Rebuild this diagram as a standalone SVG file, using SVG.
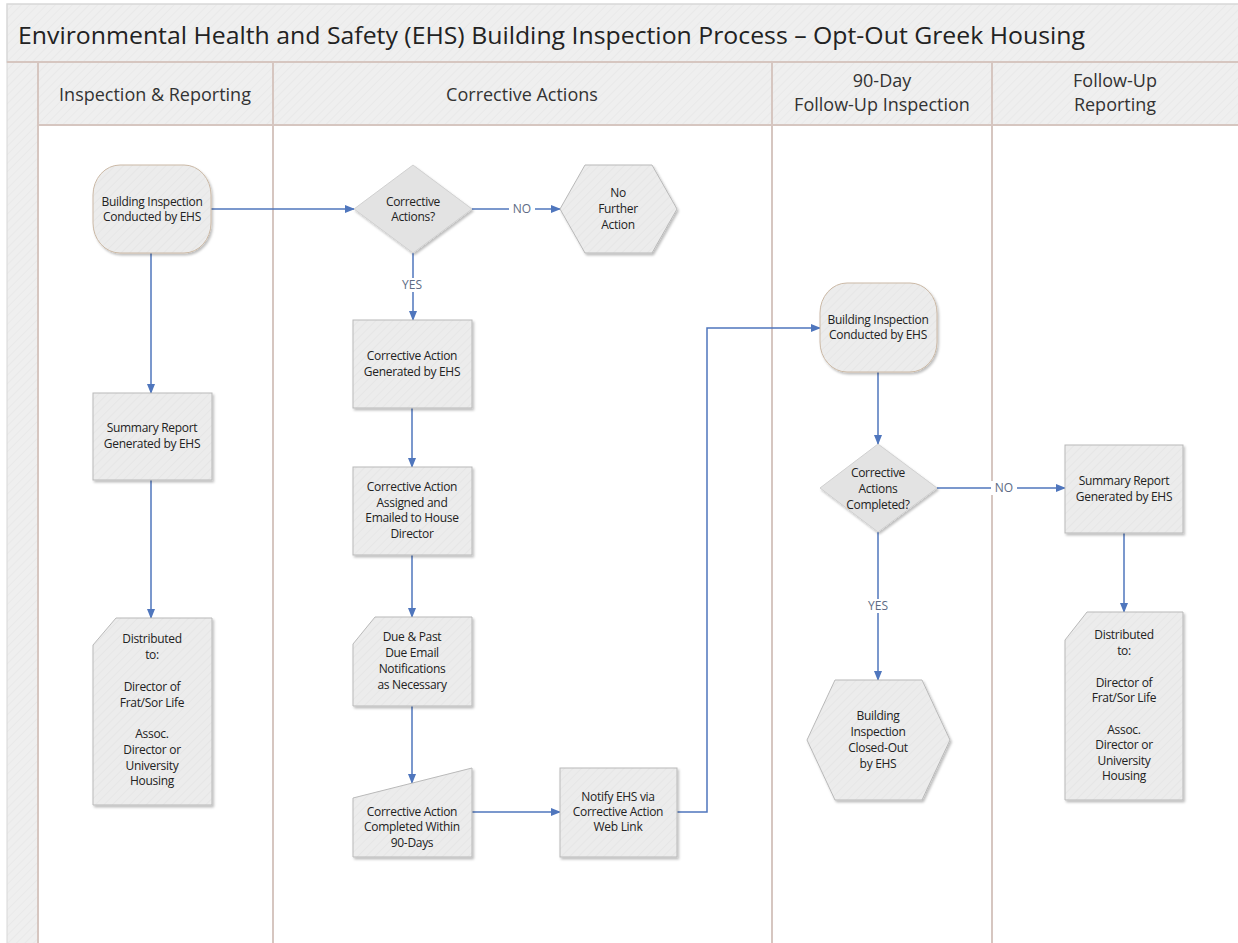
<svg xmlns="http://www.w3.org/2000/svg" width="1238" height="943" viewBox="0 0 1238 943">
<style>
.lane{stroke:#d6c6c0;stroke-width:2;fill:none}
.band{fill:url(#hatch)}
.title{font-family:"Open Sans","Noto Sans",sans-serif;font-size:24.5px;fill:#222}
.hdr{font-family:"Open Sans","Noto Sans",sans-serif;font-size:18px;fill:#333;text-anchor:middle}
.shape{fill:url(#nfill);stroke:#b9b9b9;stroke-width:1;filter:url(#sh)}
.term{fill:url(#nfill);stroke:#cbb9a6;stroke-width:1;filter:url(#sh)}
.dia{fill:#e3e3e3;stroke:#d0d0d0;stroke-width:1;filter:url(#sh)}
.t{font-family:"Open Sans","Noto Sans",sans-serif;font-size:12px;fill:#222;text-anchor:middle;letter-spacing:-0.3px}
.c{stroke:#4f76bd;stroke-width:1.5;fill:none}
.ca{stroke:#4f76bd;stroke-width:1.5;fill:none;marker-end:url(#ah)}
.lbl{font-family:"Open Sans","Noto Sans",sans-serif;font-size:12px;fill:#5d6b84;text-anchor:middle}
</style>
<defs>
<pattern id="hatch" patternUnits="userSpaceOnUse" width="6" height="6" patternTransform="rotate(45)">
<rect width="6" height="6" fill="#efefef"/>
<line x1="0" y1="0" x2="0" y2="6" stroke="#e9e9e9" stroke-width="2"/>
</pattern>
<pattern id="nfill" patternUnits="userSpaceOnUse" width="6" height="6" patternTransform="rotate(45)">
<rect width="6" height="6" fill="#ececec"/>
<line x1="0" y1="0" x2="0" y2="6" stroke="#e6e6e6" stroke-width="2"/>
</pattern>
<filter id="sh" x="-10%" y="-10%" width="125%" height="125%">
<feDropShadow dx="1.5" dy="2" stdDeviation="1.2" flood-color="#000" flood-opacity="0.25"/>
</filter>
<marker id="ah" markerWidth="10" markerHeight="8" refX="9" refY="4" orient="auto" markerUnits="userSpaceOnUse">
<path d="M0,0 L10,4 L0,8 Z" fill="#4f76bd"/>
</marker>
</defs>
<rect x="0" y="0" width="1238" height="943" fill="#ffffff"/>
<g id="frame">
<rect x="7" y="4" width="1240" height="58" class="band" stroke="#d8d8d8" stroke-width="1.5"/>
<rect x="7" y="62" width="31" height="890" class="band" stroke="#d8d8d8" stroke-width="1"/>
<rect x="38" y="62" width="1210" height="63" class="band"/>
<text x="18" y="44" class="title" textLength="1067" lengthAdjust="spacingAndGlyphs">Environmental Health and Safety (EHS) Building Inspection Process – Opt-Out Greek Housing</text>
<line x1="7" y1="62" x2="1238" y2="62" class="lane" stroke="#d8ccc6"/>
<line x1="38" y1="125" x2="1238" y2="125" class="lane"/>
<line x1="38" y1="62" x2="38" y2="943" class="lane"/>
<line x1="273" y1="62" x2="273" y2="943" class="lane"/>
<line x1="772" y1="62" x2="772" y2="943" class="lane"/>
<line x1="992" y1="62" x2="992" y2="943" class="lane"/>
<text x="155" y="101" class="hdr">Inspection &amp; Reporting</text>
<text x="522" y="101" class="hdr">Corrective Actions</text>
<text x="882" y="87" class="hdr">90-Day</text>
<text x="882" y="111" class="hdr">Follow-Up Inspection</text>
<text x="1115" y="87" class="hdr">Follow-Up</text>
<text x="1115" y="111" class="hdr">Reporting</text>
</g>
<g id="connectors">
<path class="ca" d="M210,209 H354"/>
<path class="ca" d="M472,209 H560"/>
<path class="ca" d="M413,253 V320"/>
<path class="ca" d="M412,408 V467"/>
<path class="ca" d="M412,555 V617"/>
<path class="ca" d="M412,706 V783"/>
<path class="ca" d="M472,812 H560"/>
<path class="ca" d="M677,812 H707 V328 H820"/>
<path class="ca" d="M151,253 V393"/>
<path class="ca" d="M151,480 V618"/>
<path class="ca" d="M878,372 V444"/>
<path class="ca" d="M937,488 H1065"/>
<path class="ca" d="M878,532 V680"/>
<path class="ca" d="M1124,533 V612"/>
<rect x="509" y="202" width="26" height="14" fill="#fff"/>
<text x="522" y="213" class="lbl">NO</text>
<rect x="399" y="278" width="28" height="14" fill="#fff"/>
<text x="412" y="289" class="lbl">YES</text>
<rect x="991" y="481" width="26" height="14" fill="#fff"/>
<text x="1004" y="492" class="lbl">NO</text>
<rect x="864" y="599" width="28" height="14" fill="#fff"/>
<text x="878" y="610" class="lbl">YES</text>
</g>
<g id="n1">
<rect x="93" y="165" width="118" height="88" rx="27" ry="30" class="term"/>
<text class="t"><tspan x="152" y="206">Building Inspection</tspan><tspan x="152" y="221">Conducted by EHS</tspan></text>
</g>
<g id="n2">
<polygon points="354,209 413,165 472,209 413,253" class="dia"/>
<text class="t"><tspan x="413" y="206">Corrective</tspan><tspan x="413" y="221">Actions?</tspan></text>
</g>
<g id="n3">
<polygon points="560,209 585,165 652,165 677,209 652,253 585,253" class="shape"/>
<text class="t"><tspan x="618" y="197">No</tspan><tspan x="618" y="213">Further</tspan><tspan x="618" y="229">Action</tspan></text>
</g>
<g id="n4">
<rect x="353" y="320" width="119" height="88" class="shape"/>
<text class="t"><tspan x="412" y="360">Corrective Action</tspan><tspan x="412" y="376">Generated by EHS</tspan></text>
</g>
<g id="n5">
<rect x="353" y="467" width="119" height="88" class="shape"/>
<text class="t"><tspan x="412" y="491">Corrective Action</tspan><tspan x="412" y="507">Assigned and</tspan><tspan x="412" y="522">Emailed to House</tspan><tspan x="412" y="538">Director</tspan></text>
</g>
<g id="n6">
<path d="M375,617 H472 V706 H353 V644 Z" class="shape"/>
<text class="t"><tspan x="412" y="641">Due &amp; Past</tspan><tspan x="412" y="657">Due Email</tspan><tspan x="412" y="673">Notifications</tspan><tspan x="412" y="689">as Necessary</tspan></text>
</g>
<g id="n7">
<path d="M353,798 L472,768 V857 H353 Z" class="shape"/>
<text class="t"><tspan x="412" y="816">Corrective Action</tspan><tspan x="412" y="831">Completed Within</tspan><tspan x="412" y="847">90-Days</tspan></text>
</g>
<g id="n8">
<rect x="560" y="768" width="117" height="89" class="shape"/>
<text class="t"><tspan x="618" y="801">Notify EHS via</tspan><tspan x="618" y="816">Corrective Action</tspan><tspan x="618" y="831">Web Link</tspan></text>
</g>
<g id="n9">
<rect x="93" y="393" width="119" height="87" class="shape"/>
<text class="t"><tspan x="152" y="432">Summary Report</tspan><tspan x="152" y="448">Generated by EHS</tspan></text>
</g>
<g id="n10">
<path d="M116,618 H212 V805 H93 V645 Z" class="shape"/>
<text class="t"><tspan x="152" y="643">Distributed</tspan><tspan x="152" y="659">to:</tspan><tspan x="152" y="691">Director of</tspan><tspan x="152" y="707">Frat/Sor Life</tspan><tspan x="152" y="738">Assoc.</tspan><tspan x="152" y="754">Director or</tspan><tspan x="152" y="770">University</tspan><tspan x="152" y="785">Housing</tspan></text>
</g>
<g id="n11">
<rect x="820" y="283" width="117" height="89" rx="27" ry="30" class="term"/>
<text class="t"><tspan x="878" y="324">Building Inspection</tspan><tspan x="878" y="339">Conducted by EHS</tspan></text>
</g>
<g id="n12">
<polygon points="820,488 878,444 937,488 878,532" class="dia"/>
<text class="t"><tspan x="878" y="477">Corrective</tspan><tspan x="878" y="493">Actions</tspan><tspan x="878" y="509">Completed?</tspan></text>
</g>
<g id="n13">
<rect x="1065" y="445" width="118" height="88" class="shape"/>
<text class="t"><tspan x="1124" y="485">Summary Report</tspan><tspan x="1124" y="501">Generated by EHS</tspan></text>
</g>
<g id="n14">
<polygon points="807,740 835,680 922,680 950,740 922,800 835,800" class="shape"/>
<text class="t"><tspan x="878" y="720">Building</tspan><tspan x="878" y="736">Inspection</tspan><tspan x="878" y="752">Closed-Out</tspan><tspan x="878" y="768">by EHS</tspan></text>
</g>
<g id="n15">
<path d="M1087,612 H1183 V800 H1065 V640 Z" class="shape"/>
<text class="t"><tspan x="1124" y="639">Distributed</tspan><tspan x="1124" y="655">to:</tspan><tspan x="1124" y="687">Director of</tspan><tspan x="1124" y="702">Frat/Sor Life</tspan><tspan x="1124" y="734">Assoc.</tspan><tspan x="1124" y="749">Director or</tspan><tspan x="1124" y="765">University</tspan><tspan x="1124" y="780">Housing</tspan></text>
</g>
</svg>
